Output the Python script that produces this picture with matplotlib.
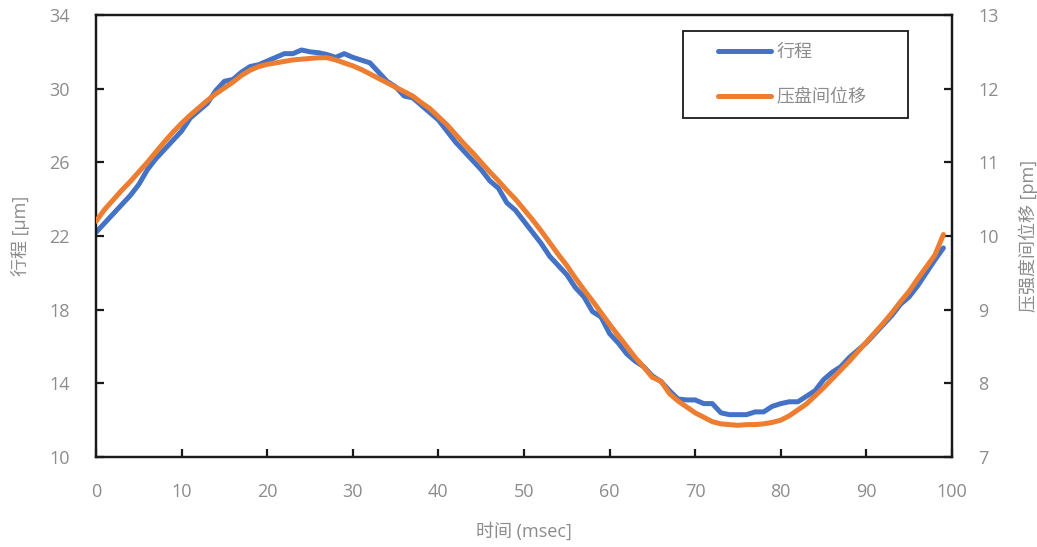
import numpy as np
import matplotlib.pyplot as plt
from matplotlib.patches import Rectangle

plt.rcParams['font.family'] = ['Open Sans', 'Noto Sans CJK SC', 'DejaVu Sans']

# 时间 (msec)
t = np.arange(100)

# 行程 [μm]
stroke = [22.2, 22.7, 23.2, 23.7, 24.2, 24.8, 25.6, 26.2, 26.7, 27.2,
          27.7, 28.4, 28.8, 29.2, 29.9, 30.4, 30.5, 30.9, 31.2, 31.3,
          31.5, 31.7, 31.9, 31.9, 32.1, 32.0, 31.95, 31.85, 31.7, 31.9,
          31.7, 31.55, 31.4, 30.9, 30.4, 30.1, 29.6, 29.5, 29.1, 28.7,
          28.3, 27.7, 27.1, 26.6, 26.1, 25.6, 25.0, 24.6, 23.8, 23.4,
          22.8, 22.2, 21.6, 20.9, 20.4, 19.9, 19.2, 18.7, 17.9, 17.6,
          16.7, 16.2, 15.6, 15.2, 14.9, 14.4, 14.1, 13.6, 13.15, 13.1,
          13.1, 12.9, 12.9, 12.4, 12.3, 12.3, 12.3, 12.45, 12.45, 12.75,
          12.9, 13.0, 13.0, 13.3, 13.6, 14.2, 14.6, 14.9, 15.4, 15.8,
          16.2, 16.7, 17.2, 17.7, 18.3, 18.7, 19.3, 20.0, 20.7, 21.35]

# 压盘间位移 [pm]
disp = [10.20, 10.36, 10.49, 10.62, 10.74, 10.87, 11.00, 11.14, 11.28, 11.41,
        11.53, 11.64, 11.74, 11.84, 11.93, 12.01, 12.09, 12.18, 12.25, 12.30,
        12.33, 12.35, 12.37, 12.39, 12.40, 12.41, 12.42, 12.42, 12.39, 12.35,
        12.31, 12.26, 12.20, 12.14, 12.08, 12.02, 11.96, 11.90, 11.81, 11.73,
        11.62, 11.51, 11.38, 11.25, 11.13, 11.00, 10.87, 10.75, 10.62, 10.50,
        10.36, 10.22, 10.07, 9.91, 9.75, 9.60, 9.43, 9.27, 9.12, 8.96,
        8.80, 8.65, 8.50, 8.35, 8.22, 8.08, 8.03, 7.86, 7.76, 7.68,
        7.60, 7.54, 7.48, 7.45, 7.44, 7.43, 7.44, 7.44, 7.45, 7.47,
        7.50, 7.56, 7.64, 7.72, 7.83, 7.94, 8.06, 8.18, 8.30, 8.43,
        8.56, 8.69, 8.82, 8.96, 9.11, 9.25, 9.42, 9.58, 9.74, 10.02]

gray = '#8c8c8c'
blue = '#4472C4'
orange = '#ED7D31'

fig = plt.figure(figsize=(10.37, 5.47), dpi=100)
ax = fig.add_axes([0.0926, 0.1645, 0.8254, 0.8081])
ax2 = ax.twinx()

l1, = ax.plot(t, stroke, color=blue, lw=3.6, solid_capstyle='round', zorder=2)
l2, = ax2.plot(t, disp, color=orange, lw=3.6, solid_capstyle='round', zorder=3)

ax.set_xlim(0, 100)
ax.set_ylim(10, 34)
ax.set_yticks([10, 14, 18, 22, 26, 30, 34])
ax.set_xticks(range(0, 101, 10))
ax2.set_ylim(7, 13)
ax2.set_yticks(range(7, 14))

for a in (ax, ax2):
    for s in a.spines.values():
        s.set_linewidth(1.6)
        s.set_color('#1a1a1a')
ax.tick_params(axis='both', direction='in', length=6, width=1.6,
               color='#1a1a1a', labelcolor=gray, labelsize=13)
ax.tick_params(axis='y', pad=19)
ax.tick_params(axis='x', pad=19)
ax2.tick_params(axis='y', direction='in', length=6, width=1.6,
                color='#1a1a1a', labelcolor=gray, labelsize=13, pad=19)

ax.set_xlabel('时间 (msec]', color=gray, fontsize=13, labelpad=15)
ax.set_ylabel('行程 [μm]', color=gray, fontsize=13, labelpad=14)
ax2.set_ylabel('压强度间位移 [pm]', color=gray, fontsize=13, labelpad=14)

ax2.set_zorder(ax.get_zorder() + 1)

# legend frame drawn separately (wide box with generous side padding)
ax2.add_patch(Rectangle((683 / 1037, 1 - 118 / 547), 225 / 1037, 87 / 547,
                        transform=fig.transFigure, clip_on=False, facecolor='white',
                        edgecolor='#1a1a1a', linewidth=1.3, zorder=5))
leg = ax2.legend([l1, l2], ['行程', '压盘间位移'], loc='upper left',
                 bbox_to_anchor=(718 / 1037, 1 - 43 / 547), bbox_transform=fig.transFigure,
                 fontsize=13, handlelength=2.95, labelspacing=1.5, borderpad=0,
                 handletextpad=0.3, borderaxespad=0, frameon=False)
leg.set_zorder(6)
for txt in leg.get_texts():
    txt.set_color(gray)

fig.savefig('out.png', dpi=100)
